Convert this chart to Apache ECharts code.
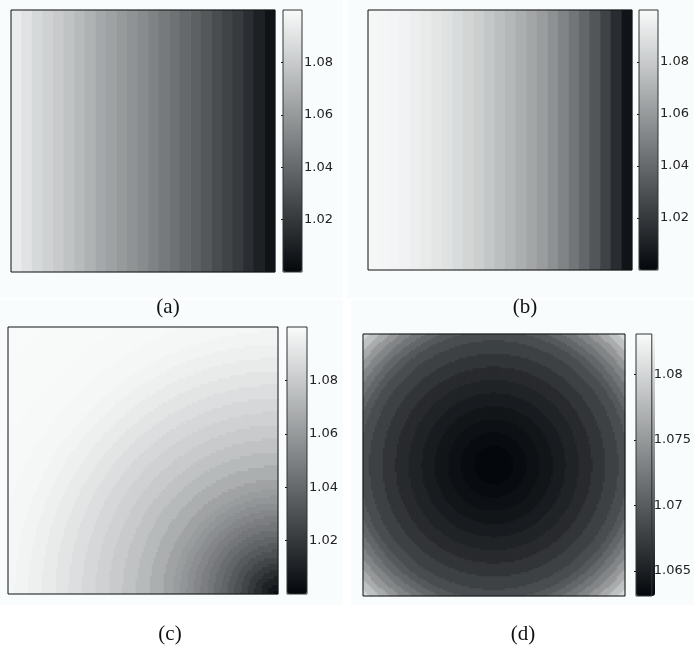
<!DOCTYPE html>
<html>
<head>
<meta charset="utf-8">
<script src="https://cdn.jsdelivr.net/npm/echarts@6/dist/echarts.min.js"></script>
<style>
  html, body { margin: 0; padding: 0; background: #ffffff; }
  #main { width: 694px; height: 645px; }
</style>
</head>
<body>
<div id="main"></div>
<script>
// colour bar ranges and tick labels
const rangeABC = [1.0, 1.1];
const rangeD = [1.0631, 1.0831];
const ticksABC = [1.02, 1.04, 1.06, 1.08];
const ticksD = [1.065, 1.07, 1.075, 1.08];
const captions = ['(a)', '(b)', '(c)', '(d)'];

// (a) and (b): value per column, left to right (every row is the same)
const profileA = [1.0937, 1.0898, 1.0859, 1.0827, 1.0800, 1.0769, 1.0733, 1.0698, 1.0659, 1.0631,
  1.0600, 1.0573, 1.0541, 1.0506, 1.0471, 1.0435, 1.0400, 1.0365, 1.0329, 1.0286,
  1.0247, 1.0208, 1.0157, 1.0102, 1.0043];
const profileB = [1.0984, 1.0980, 1.0973, 1.0965, 1.0949, 1.0933, 1.0914, 1.0894, 1.0871, 1.0843,
  1.0816, 1.0784, 1.0753, 1.0722, 1.0686, 1.0647, 1.0612, 1.0565, 1.0510, 1.0451,
  1.0392, 1.0322, 1.0243, 1.0149, 1.0051];

// (c): value read against distance from the lower right corner (in plot widths)
const ringRadiusC = [0, 0.025, 0.05, 0.075, 0.1, 0.125, 0.15, 0.175, 0.2, 0.225, 0.25, 0.275, 0.3, 0.325, 0.35, 0.375,
  0.4, 0.45, 0.5, 0.55, 0.6, 0.65, 0.7, 0.75, 0.8, 0.85, 0.9, 0.95, 1.0, 1.1, 1.2, 1.42];
const ringValueC = [1.0016, 1.0065, 1.0110, 1.0159, 1.0208, 1.0257, 1.0302, 1.0343, 1.0384, 1.0420, 1.0457, 1.0490, 1.0522, 1.0555, 1.0584, 1.0612,
  1.0637, 1.0686, 1.0731, 1.0767, 1.0800, 1.0829, 1.0853, 1.0882, 1.0910, 1.0935, 1.0955, 1.0971, 1.0984, 1.0990, 1.0996, 1.0998];

// (d): value read against distance from the centre (in plot widths)
const ringRadiusD = [0, 0.05, 0.1, 0.15, 0.2, 0.25, 0.3, 0.35, 0.4, 0.45, 0.5, 0.525, 0.55, 0.575, 0.6,
  0.625, 0.65, 0.675, 0.7, 0.725];
const ringValueD = [1.0631, 1.0632, 1.0635, 1.0639, 1.0643, 1.0648, 1.0654, 1.0660, 1.0669, 1.0678, 1.0688, 1.0698, 1.0709, 1.0721, 1.0734,
  1.0749, 1.0766, 1.0784, 1.0803, 1.0824];

function ringValue(radii, values, r) {
  let best = 0;
  for (let k = 1; k < radii.length; k++) {
    if (Math.abs(radii[k] - r) < Math.abs(radii[best] - r)) best = k;
  }
  return values[best];
}

function columnData(profile) {
  return profile.map(function (v, i) { return [i, 0, v]; });
}

// cells nx by ny; aspect = plot height / plot width
function radialData(radii, values, nx, ny, aspect, cornerX, cornerY) {
  const out = [];
  for (let i = 0; i < nx; i++) {
    for (let j = 0; j < ny; j++) {
      const dx = (i + 0.5) / nx - cornerX;
      const dy = ((j + 0.5) / ny - cornerY) * aspect;
      out.push([i, j, ringValue(radii, values, Math.sqrt(dx * dx + dy * dy))]);
    }
  }
  return out;
}

const indices = function (n) { return Array.from({ length: n }, function (_, i) { return i; }); };

const plots = [
  { box: [11, 10, 264, 262], bar: [283, 10, 19, 262], range: rangeABC, ticks: ticksABC, nx: profileA.length, ny: 1, data: columnData(profileA), cap: [168, 307] },
  { box: [368, 10, 264, 260], bar: [639, 10, 19, 260], range: rangeABC, ticks: ticksABC, nx: profileB.length, ny: 1, data: columnData(profileB), cap: [525, 307] },
  { box: [8, 327, 270, 267], bar: [287, 327, 20, 267], range: rangeABC, ticks: ticksABC, nx: 135, ny: 89, data: radialData(ringRadiusC, ringValueC, 135, 89, 267 / 270, 1, 0), cap: [170, 634] },
  { box: [363, 334, 262, 262], bar: [636, 334, 19, 262], range: rangeD, ticks: ticksD, nx: 131, ny: 131, data: radialData(ringRadiusD, ringValueD, 131, 131, 1, 0.5, 0.5), cap: [523, 634] }
];

const grid = [], xAxis = [], yAxis = [], series = [], visualMap = [], graphic = [];
const bg = [[0, 0, 343, 298], [347, 0, 347, 298], [0, 300, 343, 305], [351, 300, 343, 305]];
bg.forEach(function (r) {
  graphic.push({ type: 'rect', left: r[0], top: r[1], shape: { width: r[2], height: r[3] }, style: { fill: '#f9fcfc' }, z: -10, silent: true });
});

plots.forEach(function (p, k) {
  grid.push({ left: p.box[0], top: p.box[1], width: p.box[2], height: p.box[3], show: true, borderColor: '#111', borderWidth: 1, backgroundColor: 'transparent', z: 10 });
  xAxis.push({ type: 'category', gridIndex: k, data: indices(p.nx), show: false });
  yAxis.push({ type: 'category', gridIndex: k, data: indices(p.ny), show: false });
  series.push({ type: 'heatmap', xAxisIndex: k, yAxisIndex: k, data: p.data, progressive: 0, itemStyle: { borderWidth: 0 } });
  visualMap.push({
    type: 'continuous', seriesIndex: k, min: p.range[0], max: p.range[1], calculable: false, hoverLink: false,
    left: p.bar[0], top: p.bar[1], itemWidth: p.bar[2], itemHeight: p.bar[3], padding: 0, text: null,
    inRange: { color: ['#04080c', '#f9fbfb'] }
  });
  graphic.push({ type: 'text', x: p.cap[0], y: p.cap[1], style: { text: captions[k], font: '21px "Liberation Serif"', fill: '#111', textAlign: 'center', textVerticalAlign: 'middle' } });
});

plots.forEach(function (p, k) {
  const g = 4 + k;
  grid.push({ left: p.bar[0], top: p.bar[1], width: p.bar[2], height: p.bar[3], show: true, borderColor: '#333', borderWidth: 1, backgroundColor: 'transparent', z: 10 });
  xAxis.push({ type: 'value', gridIndex: g, show: false });
  ['right', 'left'].forEach(function (side) {
    yAxis.push({
      type: 'value', gridIndex: g, position: side, min: p.range[0], max: p.range[1],
      axisLine: { show: false }, splitLine: { show: false },
      axisTick: { show: true, inside: true, length: 2, customValues: p.ticks, lineStyle: { color: '#111' } },
      axisLabel: { show: side === 'right', customValues: p.ticks, margin: 2, fontFamily: 'DejaVu Sans', fontSize: 13, color: '#222' }
    });
  });
});

const chart = echarts.init(document.getElementById('main'));
chart.setOption({ animation: false, grid: grid, xAxis: xAxis, yAxis: yAxis, series: series, visualMap: visualMap, graphic: graphic });
</script>
</body>
</html>
